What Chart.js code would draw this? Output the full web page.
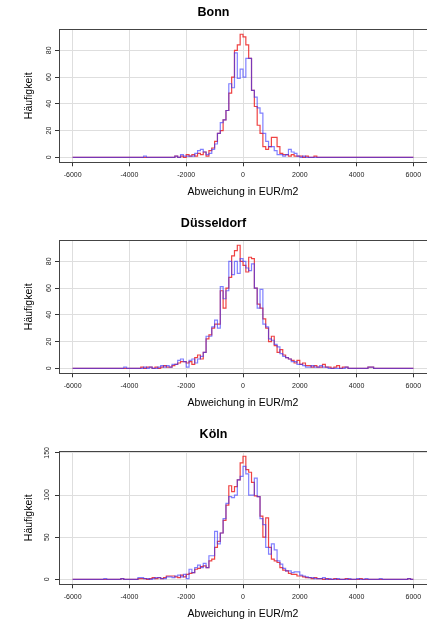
<!DOCTYPE html>
<html>
<head>
<meta charset="utf-8">
<script src="https://cdn.jsdelivr.net/npm/chart.js"></script>
<style>
  html, body { margin: 0; padding: 0; background: #fff; overflow: hidden; }
  body { width: 427px; height: 622px; }
  .panel { width: 427px; height: 211px; }
  canvas { display: block; }
</style>
</head>
<body>
<div class="panel"><canvas id="bonn" width="427" height="211"></canvas></div>
<div class="panel"><canvas id="duesseldorf" width="427" height="211"></canvas></div>
<div class="panel"><canvas id="koeln" width="427" height="211"></canvas></div>

<script>
    // histogram bins: 100 EUR/m2 wide, from -6000 to 6000
    const binStart = -6000
    const binWidth = 100
    const binCount = 120
    const edges = Array.from({length: binCount + 1}, (_, i) => binStart + i * binWidth)

    const xTicks = [-6000, -4000, -2000, 0, 2000, 4000, 6000]
    const yTicksSmall = [0, 20, 40, 60, 80]
    const yTicksKoeln = [0, 50, 100, 150]

    // counts per bin, one row = 10 bins (1000 EUR/m2)
    const bonnBlue = [
        0, 0, 0, 0, 0, 0, 0, 0, 0, 0,
        0, 0, 0, 0, 0, 0, 0, 0, 0, 0,
        0, 0, 0, 0, 0, 1, 0, 0, 0, 0,
        0, 0, 0, 0, 0, 0, 1, 0, 2, 1,
        1, 1, 1, 3, 5, 6, 4, 2, 3, 6,
        10, 18, 26, 28, 35, 55, 52, 78, 59, 66,
        60, 74, 74, 50, 45, 37, 33, 18, 12, 8,
        8, 5, 2, 2, 1, 2, 6, 4, 3, 1,
        0, 1, 0, 0, 0, 0, 0, 0, 0, 0,
        0, 0, 0, 0, 0, 0, 0, 0, 0, 0,
        0, 0, 0, 0, 0, 0, 0, 0, 0, 0,
        0, 0, 0, 0, 0, 0, 0, 0, 0, 0
    ]
    const bonnRed = [
        0, 0, 0, 0, 0, 0, 0, 0, 0, 0,
        0, 0, 0, 0, 0, 0, 0, 0, 0, 0,
        0, 0, 0, 0, 0, 0, 0, 0, 0, 0,
        0, 0, 0, 0, 0, 0, 1, 0, 1, 0,
        2, 1, 2, 1, 3, 2, 4, 1, 5, 7,
        12, 18, 20, 28, 35, 48, 60, 80, 84, 92,
        90, 84, 74, 50, 38, 24, 18, 8, 6, 8,
        15, 15, 8, 3, 2, 2, 1, 2, 1, 1,
        1, 0, 1, 0, 0, 1, 0, 0, 0, 0,
        0, 0, 0, 0, 0, 0, 0, 0, 0, 0,
        0, 0, 0, 0, 0, 0, 0, 0, 0, 0,
        0, 0, 0, 0, 0, 0, 0, 0, 0, 0
    ]
    const duesseldorfBlue = [
        0, 0, 0, 0, 0, 0, 0, 0, 0, 0,
        0, 0, 0, 0, 0, 0, 0, 0, 1, 0,
        0, 0, 0, 0, 0, 1, 0, 1, 0, 0,
        1, 2, 1, 2, 1, 3, 3, 6, 7, 5,
        1, 6, 7, 4, 7, 9, 12, 24, 24, 31,
        36, 30, 61, 52, 58, 80, 70, 80, 71, 82,
        80, 75, 73, 78, 60, 45, 59, 33, 31, 22,
        21, 18, 16, 11, 9, 8, 7, 5, 5, 3,
        3, 2, 1, 1, 2, 1, 1, 2, 1, 1,
        0, 0, 0, 0, 0, 0, 1, 0, 0, 0,
        0, 0, 0, 0, 1, 1, 0, 0, 0, 0,
        0, 0, 0, 0, 0, 0, 0, 0, 0, 0
    ]
    const duesseldorfRed = [
        0, 0, 0, 0, 0, 0, 0, 0, 0, 0,
        0, 0, 0, 0, 0, 0, 0, 0, 0, 0,
        0, 0, 0, 0, 1, 0, 1, 1, 0, 1,
        0, 1, 2, 1, 1, 2, 3, 4, 5, 5,
        4, 5, 3, 8, 10, 7, 12, 22, 25, 30,
        33, 33, 58, 45, 60, 68, 84, 88, 92, 80,
        77, 72, 83, 82, 60, 48, 45, 37, 30, 20,
        24, 17, 12, 14, 10, 8, 7, 6, 4, 6,
        3, 4, 2, 2, 1, 2, 1, 1, 3, 1,
        1, 0, 1, 2, 0, 1, 1, 0, 0, 0,
        0, 0, 0, 0, 1, 1, 0, 0, 0, 0,
        0, 0, 0, 0, 0, 0, 0, 0, 0, 0
    ]
    const koelnBlue = [
        0, 0, 0, 0, 0, 0, 0, 0, 0, 0,
        0, 1, 0, 0, 0, 0, 0, 1, 0, 0,
        0, 0, 0, 2, 2, 1, 1, 0, 1, 2,
        2, 1, 1, 3, 3, 2, 4, 5, 3, 6,
        1, 12, 8, 14, 17, 14, 19, 14, 28, 28,
        57, 42, 55, 72, 90, 98, 97, 100, 118, 122,
        134, 125, 100, 100, 120, 98, 72, 65, 38, 30,
        42, 35, 22, 18, 13, 10, 10, 8, 9, 9,
        5, 4, 3, 2, 2, 1, 1, 1, 2, 0,
        1, 0, 0, 1, 0, 0, 0, 1, 0, 0,
        1, 0, 0, 1, 0, 0, 0, 0, 1, 0,
        0, 0, 0, 0, 0, 0, 0, 0, 1, 0
    ]
    const koelnRed = [
        0, 0, 0, 0, 0, 0, 0, 0, 0, 0,
        0, 0, 0, 0, 0, 0, 0, 1, 0, 0,
        0, 0, 0, 1, 1, 1, 0, 1, 2, 1,
        2, 1, 2, 4, 4, 4, 3, 2, 5, 3,
        6, 7, 8, 12, 13, 15, 16, 14, 22, 24,
        38, 45, 55, 70, 88, 111, 104, 110, 118, 138,
        146, 130, 127, 115, 99, 98, 75, 50, 73, 38,
        24, 22, 20, 14, 11, 10, 7, 6, 6, 4,
        4, 3, 2, 2, 1, 2, 1, 1, 0, 1,
        0, 0, 1, 0, 0, 0, 1, 0, 0, 0,
        0, 1, 0, 0, 0, 0, 0, 0, 0, 0,
        0, 0, 0, 0, 0, 0, 0, 0, 1, 0
    ]

    Chart.defaults.font.family = "'Liberation Sans', Arial, sans-serif"
    Chart.defaults.color = '#111'

    // box round the plot region, like R's box()
    const frame = {
        id: 'frame',
        afterDraw(chart) {
            const {ctx, chartArea: a} = chart
            ctx.save()
            ctx.strokeStyle = '#444'
            ctx.lineWidth = 1
            ctx.strokeRect(Math.round(a.left) + 0.5, Math.round(a.top) + 0.5,
                Math.round(a.right - a.left), Math.round(a.bottom - a.top))
            ctx.restore()
        }
    }

    function stepPoints(counts) {
        const pts = counts.map((c, i) => ({x: edges[i], y: c}))
        pts.push({x: edges[binCount], y: counts[binCount - 1]})
        return pts
    }

    function histChart(id, title, blue, red, yTicks) {
        const peak = Math.max(...blue, ...red)
        const yPad = peak * 0.04
        const xPad = (edges[binCount] - edges[0]) * 0.04
        const grid = {color: '#dedede', tickColor: '#333', tickLength: 4, lineWidth: 1}

        new Chart(document.getElementById(id), {
            type: 'line',
            data: {
                datasets: [{
                    label: 'blau',
                    data: stepPoints(blue),
                    borderColor: 'rgba(50,50,255,0.62)',
                    borderWidth: 1.2,
                    stepped: true,
                    pointRadius: 0,
                    fill: false
                }, {
                    label: 'rot',
                    data: stepPoints(red),
                    borderColor: 'rgba(235,20,20,0.8)',
                    borderWidth: 1.2,
                    stepped: true,
                    pointRadius: 0,
                    fill: false
                }]
            },
            options: {
                responsive: false,
                animation: false,
                layout: {padding: 0},
                plugins: {
                    legend: {display: false},
                    tooltip: {enabled: false},
                    title: {
                        display: true,
                        text: title,
                        color: '#000',
                        font: {size: 12.5, weight: 'bold'},
                        padding: {top: 5.5, bottom: 8.8}
                    }
                },
                scales: {
                    x: {
                        type: 'linear',
                        min: edges[0] - xPad,
                        max: edges[binCount] + xPad,
                        afterBuildTicks: s => { s.ticks = xTicks.map(v => ({value: v})) },
                        afterFit: s => { s.height = 48.7 },
                        grid: grid,
                        border: {display: false},
                        ticks: {font: {size: 7}, color: '#222', padding: 5, maxRotation: 0,
                            callback: v => String(v)},
                        title: {display: true, text: 'Abweichung in EUR/m2', color: '#000',
                            font: {size: 10.5}, padding: {top: 0, bottom: 13}}
                    },
                    y: {
                        min: -yPad,
                        max: peak + yPad,
                        afterBuildTicks: s => { s.ticks = yTicks.map(v => ({value: v})) },
                        afterFit: s => { s.width = 59 },
                        grid: grid,
                        border: {display: false},
                        ticks: {font: {size: 7}, color: '#222', padding: 2,
                            minRotation: 90, maxRotation: 90, crossAlign: 'center',
                            callback: v => String(v)},
                        title: {display: true, text: 'Häufigkeit', color: '#000',
                            font: {size: 10.5}, padding: {top: 23, bottom: 0}}
                    }
                }
            },
            plugins: [frame]
        })
    }

    histChart('bonn', 'Bonn', bonnBlue, bonnRed, yTicksSmall)
    histChart('duesseldorf', 'Düsseldorf', duesseldorfBlue, duesseldorfRed, yTicksSmall)
    histChart('koeln', 'Köln', koelnBlue, koelnRed, yTicksKoeln)
</script>
</body>
</html>
